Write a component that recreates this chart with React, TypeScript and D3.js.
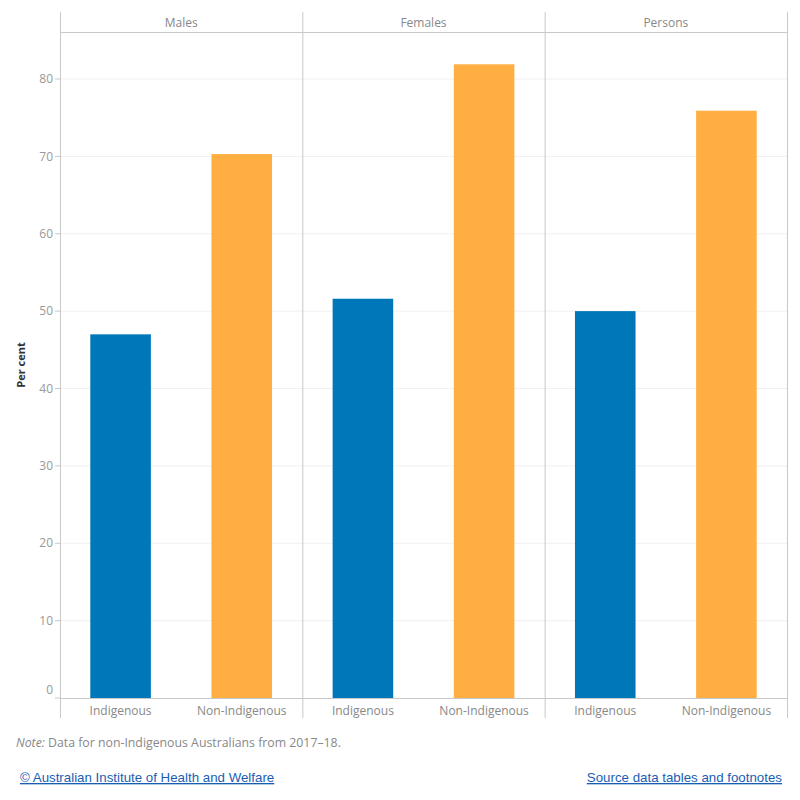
import React from "react";
import * as d3 from "d3";

const panels = ["Males", "Females", "Persons"];
const groups = ["Indigenous", "Non-Indigenous"];
const indigenous = [47.0, 51.6, 50.0];
const nonIndigenous = [70.3, 81.9, 75.9];
const yTicks = [0, 10, 20, 30, 40, 50, 60, 70, 80];
const colors = ["#0077b8", "#ffae42"];

const width = 800;
const height = 800;
const left = 60;
const right = 787;
const top = 12;
const headerBottom = 32;
const plotBottom = 698;
const frameBottom = 718;
const font = "'Open Sans', sans-serif";
const linkFont = "'Liberation Sans', Arial, sans-serif";

export default function App() {
  const y = d3.scaleLinear().domain([0, 80]).range([plotBottom, 79]);
  const px = d3.scaleBand().domain(panels).range([left, right]);
  const bx = d3.scaleBand().domain(groups).range([0, px.bandwidth()]).paddingInner(0.5).paddingOuter(0.25);
  const values = [indigenous, nonIndigenous];

  return (
    <svg width={width} height={height} style={{ position: "absolute", left: 0, top: 0 }}>
      <rect width={width} height={height} fill="#fff" />
      {yTicks.map((t) => (
        <g key={t}>
          {t > 0 && <line x1={left} x2={right} y1={y(t)} y2={y(t)} stroke="#f0f0f0" />}
          <line x1={left - 5} x2={left} y1={y(t)} y2={y(t)} stroke="#c8c8c8" />
          <text x={left - 7} y={t === 0 ? y(t) - 8 : y(t)} dy="0.35em" textAnchor="end" fontSize={12} fill="#999" fontFamily={font}>
            {t}
          </text>
        </g>
      ))}
      {panels.map((p, i) => (
        <g key={p} transform={`translate(${px(p)},0)`}>
          <text x={px.bandwidth() / 2} y={27} textAnchor="middle" fontSize={12} fill="#888" fontFamily={font}>
            {p}
          </text>
          {groups.map((g, j) => (
            <g key={g}>
              <rect
                x={bx(g)}
                width={bx.bandwidth()}
                y={y(values[j][i])}
                height={plotBottom - y(values[j][i])}
                fill={colors[j]}
              />
              <text x={(bx(g) as number) + bx.bandwidth() / 2} y={715} textAnchor="middle" fontSize={12} fill="#888" fontFamily={font}>
                {g}
              </text>
            </g>
          ))}
        </g>
      ))}
      {[...panels.map((p) => px(p) as number), right].map((x, i) => (
        <line key={i} x1={x + 0.5} x2={x + 0.5} y1={top} y2={frameBottom} stroke="#c8c8c8" />
      ))}
      <line x1={left} x2={right} y1={headerBottom + 0.5} y2={headerBottom + 0.5} stroke="#c8c8c8" />
      <line x1={left} x2={right} y1={plotBottom + 0.5} y2={plotBottom + 0.5} stroke="#c8c8c8" />
      <text transform={`translate(25,${(headerBottom + plotBottom) / 2}) rotate(-90)`} textAnchor="middle" fontSize={11} fontWeight="bold" fill="#333" fontFamily={font}>
        Per cent
      </text>
      <text x={16} y={747} fontSize={12.3} fill="#888" fontFamily={font}>
        <tspan fontStyle="italic">Note:</tspan> Data for non-Indigenous Australians from 2017–18.
      </text>
      <text x={20} y={782} fontSize={13.3} fill="#1a5eb4" textDecoration="underline" fontFamily={linkFont}>
        © Australian Institute of Health and Welfare
      </text>
      <text x={782} y={782} textAnchor="end" fontSize={13.3} fill="#1a5eb4" textDecoration="underline" fontFamily={linkFont}>
        Source data tables and footnotes
      </text>
    </svg>
  );
}
